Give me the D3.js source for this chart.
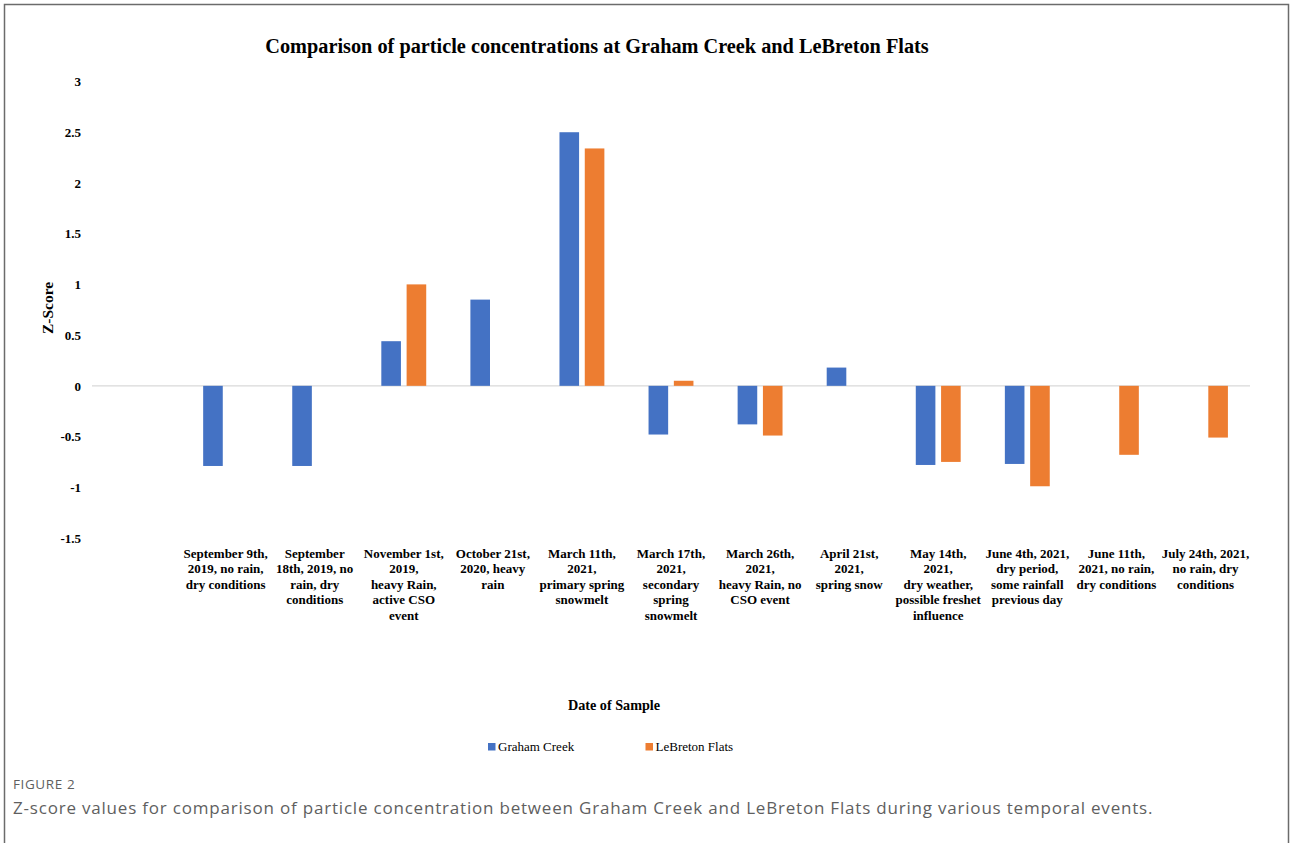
<!DOCTYPE html>
<html>
<head>
<meta charset="utf-8">
<script src="https://cdn.jsdelivr.net/npm/d3@7"></script>
<style>
  html, body { margin: 0; padding: 0; background: #ffffff; }
  svg { display: block; }
</style>
</head>
<body>
<svg id="chart" width="1290" height="843"></svg>
<script>
// Sampling events (first slot is left empty on the axis)
const categories = [
  "",
  "Sep 9 2019", "Sep 18 2019", "Nov 1 2019", "Oct 21 2020", "Mar 11 2021",
  "Mar 17 2021", "Mar 26 2021", "Apr 21 2021", "May 14 2021", "Jun 4 2021",
  "Jun 11 2021", "Jul 24 2021"
];

// Wrapped category labels, one array of lines per event
const categoryLabels = [
  [],
  ["September 9th,", "2019, no rain,", "dry conditions"],
  ["September", "18th, 2019, no", "rain, dry", "conditions"],
  ["November 1st,", "2019,", "heavy Rain,", "active CSO", "event"],
  ["October 21st,", "2020, heavy", "rain"],
  ["March 11th,", "2021,", "primary spring", "snowmelt"],
  ["March 17th,", "2021,", "secondary", "spring", "snowmelt"],
  ["March 26th,", "2021,", "heavy Rain, no", "CSO event"],
  ["April 21st,", "2021,", "spring snow"],
  ["May 14th,", "2021,", "dry weather,", "possible freshet", "influence"],
  ["June 4th, 2021,", "dry period,", "some rainfall", "previous day"],
  ["June 11th,", "2021, no rain,", "dry conditions"],
  ["July 24th, 2021,", "no rain, dry", "conditions"]
];

const seriesNames = ["Graham Creek", "LeBreton Flats"];
const grahamCreek    = [null, -0.79, -0.79, 0.44, 0.85, 2.50, -0.48, -0.38, 0.18, -0.78, -0.77, null, null];
const lebretonFlats  = [null, null, null, 1.00, null, 2.34, 0.05, -0.49, null, -0.75, -0.99, -0.68, -0.51];
const seriesColors = ["#4472c4", "#ed7d31"];

const yTicks = [3, 2.5, 2, 1.5, 1, 0.5, 0, -0.5, -1, -1.5];

const svg = d3.select("#chart");

// Outer figure frame
svg.append("rect")
  .attr("x", 4.5).attr("y", 4.5)
  .attr("width", 1284).attr("height", 860)
  .attr("fill", "none")
  .attr("stroke", "#6b6b6b")
  .attr("stroke-width", 1.5);

const plot = { left: 92, right: 1250, top: 81.5, bottom: 538 };

const x0 = d3.scaleBand()
  .domain(d3.range(categories.length))
  .range([plot.left, plot.right])
  .paddingInner(0).paddingOuter(0);

const groupW = 44.9;
const x1 = d3.scaleBand()
  .domain([0, 1])
  .range([-groupW / 2, groupW / 2])
  .paddingInner(0.225).paddingOuter(0);

const y = d3.scaleLinear()
  .domain([-1.5, 3])
  .range([plot.bottom, plot.top]);

const serif = "'Liberation Serif', 'Times New Roman', serif";

// Title
svg.append("text")
  .attr("x", 597).attr("y", 53)
  .attr("text-anchor", "middle")
  .attr("font-family", serif)
  .attr("font-weight", "bold")
  .attr("font-size", 20.3)
  .attr("fill", "#000")
  .text("Comparison of particle concentrations at Graham Creek and LeBreton Flats");

// Y axis tick labels (no axis line)
const yAxis = d3.axisLeft(y)
  .tickValues(yTicks)
  .tickSize(0)
  .tickPadding(0)
  .tickFormat(d => String(d));

const yG = svg.append("g")
  .attr("transform", `translate(81,0)`)
  .call(yAxis);
yG.select(".domain").remove();
yG.selectAll("text")
  .attr("font-family", serif)
  .attr("font-weight", "bold")
  .attr("font-size", 13)
  .attr("fill", "#000");

// Y axis title
svg.append("text")
  .attr("transform", "translate(53,308) rotate(-90)")
  .attr("text-anchor", "middle")
  .attr("font-family", serif)
  .attr("font-weight", "bold")
  .attr("font-size", 15.5)
  .attr("fill", "#000")
  .text("Z-Score");

// Zero baseline
svg.append("line")
  .attr("x1", plot.left).attr("x2", plot.right)
  .attr("y1", y(0)).attr("y2", y(0))
  .attr("stroke", "#d9d9d9")
  .attr("stroke-width", 1.3);

// Bars
const series = [grahamCreek, lebretonFlats];
series.forEach((vals, si) => {
  const g = svg.append("g");
  g.selectAll("rect")
    .data(vals.map((v, i) => ({ v, i })).filter(d => d.v !== null))
    .join("rect")
    .attr("x", d => x0(d.i) + x0.bandwidth() / 2 + x1(si))
    .attr("width", x1.bandwidth())
    .attr("y", d => y(Math.max(0, d.v)))
    .attr("height", d => Math.abs(y(d.v) - y(0)))
    .attr("fill", seriesColors[si]);
});

// Category labels
const xLab = svg.append("g");
categoryLabels.forEach((lines, i) => {
  const t = xLab.append("text")
    .attr("text-anchor", "middle")
    .attr("font-family", serif)
    .attr("font-weight", "bold")
    .attr("font-size", 13)
    .attr("fill", "#000");
  lines.forEach((ln, k) => {
    t.append("tspan")
      .attr("x", x0(i) + x0.bandwidth() / 2)
      .attr("y", 558 + k * 15.4)
      .text(ln);
  });
});

// X axis title
svg.append("text")
  .attr("x", 614).attr("y", 710)
  .attr("text-anchor", "middle")
  .attr("font-family", serif)
  .attr("font-weight", "bold")
  .attr("font-size", 14.2)
  .attr("fill", "#000")
  .text("Date of Sample");

// Legend
const legendX = [488, 645.5];
seriesNames.forEach((name, i) => {
  svg.append("rect")
    .attr("x", legendX[i]).attr("y", 743)
    .attr("width", 7.5).attr("height", 7.5)
    .attr("fill", seriesColors[i]);
  svg.append("text")
    .attr("x", legendX[i] + 10).attr("y", 751)
    .attr("font-family", serif)
    .attr("font-size", 13)
    .attr("fill", "#000")
    .text(name);
});

// Figure caption
const sans = "'Open Sans', 'Noto Sans', sans-serif";
svg.append("text")
  .attr("x", 13).attr("y", 789)
  .attr("font-family", sans)
  .attr("font-size", 13.5)
  .attr("letter-spacing", 0.6)
  .attr("fill", "#5f5f5f")
  .text("FIGURE 2");
svg.append("text")
  .attr("x", 13).attr("y", 814)
  .attr("font-family", sans)
  .attr("font-size", 17)
  .attr("letter-spacing", 0.8)
  .attr("fill", "#5f5f5f")
  .text("Z-score values for comparison of particle concentration between Graham Creek and LeBreton Flats during various temporal events.");
</script>
</body>
</html>
